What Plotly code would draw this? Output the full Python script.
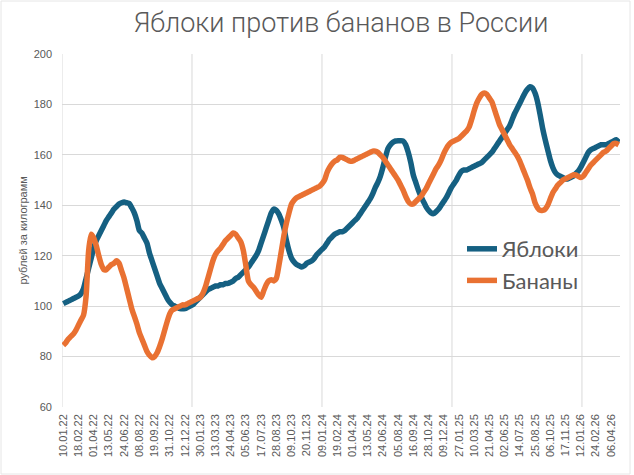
import plotly.graph_objects as go

title = "Яблоки против бананов в России"
y_title = "рублей за килограмм"

tick_labels = [
    "10.01.22", "18.02.22", "01.04.22", "13.05.22", "24.06.22", "08.08.22", "19.09.22",
    "31.10.22", "12.12.22", "30.01.23", "13.03.23", "24.04.23", "05.06.23", "17.07.23",
    "28.08.23", "09.10.23", "20.11.23", "09.01.24", "19.02.24", "01.04.24", "13.05.24",
    "24.06.24", "05.08.24", "16.09.24", "28.10.24", "09.12.24", "27.01.25", "10.03.25",
    "21.04.25", "02.06.25", "14.07.25", "25.08.25", "06.10.25", "17.11.25", "12.01.26",
    "24.02.26", "06.04.26",
]

apples = [
    101, 101.5, 102, 102.5, 103, 103.5, 104, 105, 107, 111,
    115, 119, 123, 126, 128, 130, 132, 134, 135.5, 137,
    138.5, 139.5, 140.5, 141, 141.3, 141, 140.7, 139, 137, 134,
    130, 129, 127, 125, 121, 118, 115, 112, 109, 107,
    105, 103, 101.5, 100.5, 100, 99.5, 99, 99, 99, 99.5,
    100, 100.5, 101.5, 102.5, 103.5, 104.5, 105.5, 106.5, 107, 107.5,
    108, 108, 108.5, 108.5, 109, 109, 109.5, 110, 111, 111.5,
    112.5, 113.5, 114.5, 115.5, 117, 118.5, 120, 122, 125, 128,
    131, 134, 137, 138.5, 138, 136.5, 134, 131, 126, 122,
    119, 117.5, 116.5, 116, 115.5, 116, 117, 117.5, 118, 119,
    120.5, 121.5, 122.5, 123.5, 125, 126.5, 127.5, 128.5, 129, 129.5,
    129.5, 130, 131, 132, 133, 134, 135, 136.5, 138, 139.5,
    141, 142.5, 144.5, 147, 149, 151.5, 155, 159, 162.5, 164,
    165, 165.5, 165.6, 165.6, 165.5, 164, 161, 157, 152, 149,
    146, 143.5, 141.5, 139.5, 138, 137, 136.7, 137.5, 138.5, 140,
    141.5, 143, 145, 147, 148.5, 150, 152, 153.5, 154, 154,
    154.5, 155, 155.5, 156, 156.5, 157, 158, 159, 160, 161,
    162.5, 164, 165.5, 167, 168.5, 170, 171.5, 174, 176.5, 178.5,
    180.5, 182.5, 184.5, 186, 187, 186.5, 184.5, 181, 176, 170.5,
    166, 162, 158, 155, 153, 152, 151.5, 151, 150.5, 150.5,
    151, 151.5, 152.5, 153.5, 155, 157, 159, 161, 162, 162.5,
    163, 163.5, 164, 164, 164, 164.5, 165, 165.5, 166, 165,
]

bananas = [
    84.5, 85.5, 87, 88, 89, 90.5, 92.5, 94.5, 96.5, 104,
    122, 128.5, 127, 124, 120, 116.5, 114.5, 114.5, 115.5, 116.5,
    117, 118, 117, 114, 111, 107, 103, 99, 96, 93,
    89.5, 87, 84.5, 82, 80.5, 79.5, 80, 81.5, 84, 87,
    90.5, 94, 97, 98.5, 99, 99.5, 100, 100.5, 100.5, 101,
    101.5, 102, 102.5, 103, 103.5, 105, 107.5, 111, 114.5, 118,
    120.5, 122, 123, 124.5, 126, 127, 128, 129, 128.5, 127,
    125.5, 122, 116, 110, 108.5, 107.5, 106, 104.5, 103.5, 106,
    108.5, 110, 110.5, 110, 111, 116, 122, 128, 133, 137,
    140.5, 142, 143, 143.5, 144, 144.5, 145, 145.5, 146, 146.5,
    147, 147.5, 148.5, 150, 153, 155, 156.5, 157.5, 158, 159,
    159, 158.5, 158, 157.5, 157.5, 158, 158.5, 159, 159.5, 160,
    160.5, 161, 161.5, 161.5, 161, 160, 159, 157.5, 156, 154.5,
    153, 151.5, 150, 148, 146, 143.5, 141.5, 140.5, 140.5, 141.5,
    142.5, 143.5, 145, 146.5, 148.5, 150.5, 152.5, 154.5, 156, 158,
    160.5, 162.5, 164, 165, 165.5, 166, 166.5, 167.5, 168.5, 169.5,
    171, 174, 177.5, 180.5, 182.5, 184, 184.5, 184, 182.5, 181,
    178, 175, 172, 170, 168, 166, 164, 162.5, 161, 159.5,
    157.5, 155, 152.5, 150, 147, 144.5, 141, 139, 138, 138,
    138.5, 140, 142.5, 145, 146.5, 148, 149, 150, 150.5, 151,
    151.5, 152, 152, 151.5, 151, 151.5, 153, 154.5, 156, 157,
    158, 159, 160, 161, 161.5, 162.5, 163.5, 164.5, 164.5, 164,
]

n = len(apples)
x = list(range(n))
label_step = 6
tick_vals = [i * label_step for i in range(len(tick_labels))]

BLUE = "#156082"
ORANGE = "#E97132"
GRID = "#d9d9d9"
TXT = "#595959"

fig = go.Figure()
fig.add_trace(go.Scatter(x=x, y=apples, name="Яблоки", mode="lines",
                         line=dict(color=BLUE, width=5.5, shape="spline", smoothing=0.6)))
fig.add_trace(go.Scatter(x=x, y=bananas, name="Бананы", mode="lines",
                         line=dict(color=ORANGE, width=5.5, shape="spline", smoothing=0.6)))

# vertical category gridlines (Excel-style interval)
grid_interval = 51.25
k = 0
while -0.5 + k * grid_interval < n - 0.5:
    gx = -0.5 + k * grid_interval
    fig.add_shape(type="line", xref="x", yref="paper", x0=gx, x1=gx, y0=0, y1=1,
                  line=dict(color=GRID, width=1), layer="below")
    k += 1

# chart border
fig.add_shape(type="rect", xref="paper", yref="paper",
              x0=(1 - 62) / 558, x1=(630 - 62) / 558, y0=(407 - 474) / 353, y1=(407 - 1) / 353,
              line=dict(color="#e6e6e6", width=1), layer="below")

# y-axis title placed like Excel's
fig.add_annotation(text=y_title, xref="paper", yref="paper", x=(22 - 62) / 558, y=0.5,
                   xanchor="center", yanchor="middle", textangle=-90, showarrow=False,
                   font=dict(family="Liberation Sans", size=11, color=TXT))

fig.update_layout(
    width=634, height=475,
    margin=dict(l=62, r=14, t=54, b=68),
    paper_bgcolor="white", plot_bgcolor="white",
    title=dict(text=title, x=0.5, xref="paper", xanchor="center", y=1 - 23 / 475, yanchor="middle",
               font=dict(family="Roboto", size=27, color=TXT, weight=300)),
    showlegend=True,
    legend=dict(x=(462 - 62) / 558, y=(407 - 228) / 353, xanchor="left", yanchor="top",
                font=dict(family="Lato", size=22, color=TXT), bgcolor="rgba(0,0,0,0)",
                tracegroupgap=0, itemwidth=30),
    xaxis=dict(range=[-0.5, n - 0.5], tickmode="array", tickvals=tick_vals, ticktext=tick_labels,
               tickangle=-90, showgrid=False, zeroline=False, showline=False, ticks="",
               ticklabelstandoff=4,
               tickfont=dict(family="Liberation Sans", size=11, color=TXT), fixedrange=True),
    yaxis=dict(range=[60, 200], dtick=20, tick0=60, showgrid=True, gridcolor=GRID, gridwidth=1,
               zeroline=False, showline=False, ticks="", ticklabelstandoff=9,
               tickfont=dict(family="Liberation Sans", size=11, color=TXT)),
)

fig.write_html("out.html")
